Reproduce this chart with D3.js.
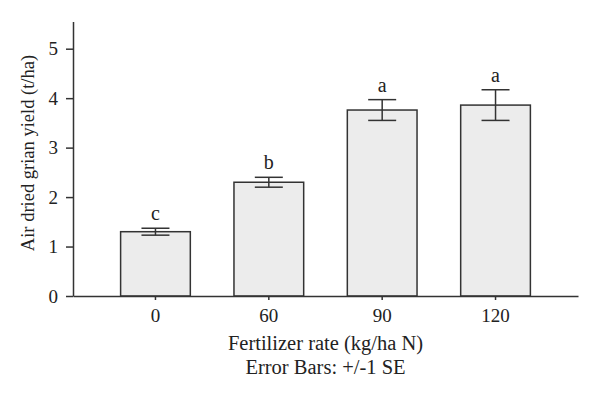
<!DOCTYPE html>
<html>
<head>
<meta charset="utf-8">
<script src="https://cdn.jsdelivr.net/npm/d3@7"></script>
<style>
  body { margin: 0; background: #fff; }
  text { font-family: "Liberation Serif", "DejaVu Serif", serif; fill: #222; }
</style>
</head>
<body>
<div id="chart"></div>
<script>
var categories = ["0", "60", "90", "120"];
var yields = [1.30, 2.30, 3.76, 3.86];
var errors = [0.07, 0.10, 0.21, 0.31];
var letters = ["c", "b", "a", "a"];
var yTicks = [0, 1, 2, 3, 4, 5];

var svgWidth = 600;
var svgHeight = 399;

var svg = d3.select("#chart")
  .append("svg")
  .attr("width", svgWidth)
  .attr("height", svgHeight);

var x = d3.scaleBand()
  .domain(categories)
  .range([73, 578])
  .paddingInner(0.385)
  .paddingOuter(0.42);

var y = d3.scaleLinear()
  .domain([0, 5.55])
  .range([296, 21.5]);

// bars
svg.selectAll(".bar")
  .data(yields)
  .enter()
  .append("rect")
  .attr("class", "bar")
  .attr("x", (d, i) => x(categories[i]))
  .attr("y", d => y(d))
  .attr("width", x.bandwidth())
  .attr("height", d => y(0) - y(d))
  .attr("fill", "#ececec")
  .attr("stroke", "#333")
  .attr("stroke-width", 1.5);

// error bars
var capHalf = 14;
var errGroup = svg.selectAll(".err")
  .data(yields)
  .enter()
  .append("g")
  .attr("class", "err")
  .attr("stroke", "#333")
  .attr("stroke-width", 1.5);

errGroup.append("line")
  .attr("x1", (d, i) => x(categories[i]) + x.bandwidth() / 2)
  .attr("x2", (d, i) => x(categories[i]) + x.bandwidth() / 2)
  .attr("y1", (d, i) => y(d + errors[i]))
  .attr("y2", (d, i) => y(d - errors[i]));

errGroup.append("line")
  .attr("x1", (d, i) => x(categories[i]) + x.bandwidth() / 2 - capHalf)
  .attr("x2", (d, i) => x(categories[i]) + x.bandwidth() / 2 + capHalf)
  .attr("y1", (d, i) => y(d + errors[i]))
  .attr("y2", (d, i) => y(d + errors[i]));

errGroup.append("line")
  .attr("x1", (d, i) => x(categories[i]) + x.bandwidth() / 2 - capHalf)
  .attr("x2", (d, i) => x(categories[i]) + x.bandwidth() / 2 + capHalf)
  .attr("y1", (d, i) => y(d - errors[i]))
  .attr("y2", (d, i) => y(d - errors[i]));

// significance letters
svg.selectAll(".letter")
  .data(letters)
  .enter()
  .append("text")
  .attr("class", "letter")
  .attr("x", (d, i) => x(categories[i]) + x.bandwidth() / 2)
  .attr("y", (d, i) => y(yields[i] + errors[i]) - 8)
  .attr("text-anchor", "middle")
  .attr("font-size", "20px")
  .text(d => d);

// axes
var bottomAxis = d3.axisBottom(x).tickSize(4).tickSizeOuter(0).tickPadding(9);
var leftAxis = d3.axisLeft(y)
  .tickValues(yTicks)
  .tickFormat(d3.format("d"))
  .tickSize(7)
  .tickSizeOuter(0)
  .tickPadding(8);

var xAxisG = svg.append("g")
  .attr("transform", `translate(0, ${y(0)})`)
  .call(bottomAxis);

var yAxisG = svg.append("g")
  .attr("transform", "translate(73, 0)")
  .call(leftAxis);

[xAxisG, yAxisG].forEach(function(g) {
  g.selectAll("path, line").attr("stroke", "#333").attr("stroke-width", 1.5);
  g.selectAll("text")
    .attr("font-family", "Liberation Serif, DejaVu Serif, serif")
    .attr("font-size", "19px")
    .attr("fill", "#222");
});

// axis titles
svg.append("text")
  .attr("transform", "translate(34, 153) rotate(-90)")
  .attr("text-anchor", "middle")
  .attr("font-size", "18.5px")
  .text("Air dried grian yield (t/ha)");

svg.append("text")
  .attr("x", 325.5)
  .attr("y", 350)
  .attr("text-anchor", "middle")
  .attr("font-size", "20.5px")
  .text("Fertilizer rate (kg/ha N)");

svg.append("text")
  .attr("x", 325.5)
  .attr("y", 374)
  .attr("text-anchor", "middle")
  .attr("font-size", "20.5px")
  .text("Error Bars: +/-1 SE");
</script>
</body>
</html>
